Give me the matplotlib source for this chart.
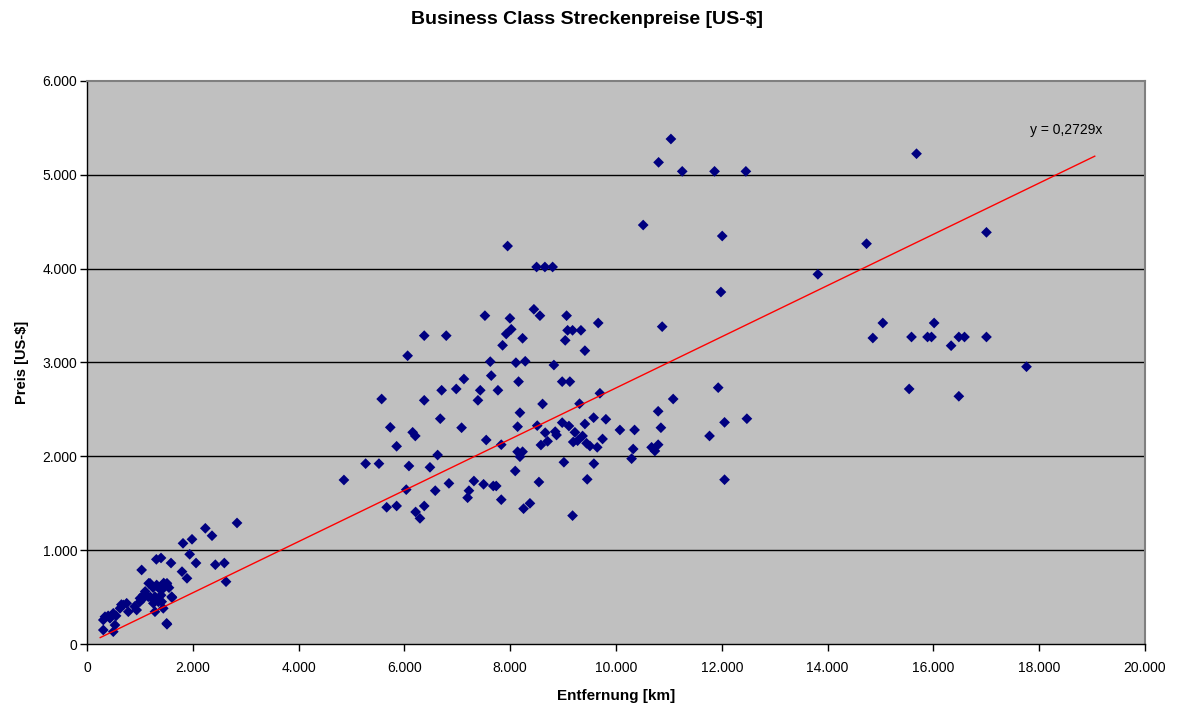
import matplotlib
matplotlib.use("Agg")
import matplotlib.pyplot as plt
from matplotlib.ticker import FuncFormatter, MultipleLocator
import numpy as np

plt.rcParams['font.family'] = ['Liberation Sans', 'DejaVu Sans']

title = "Business Class Streckenpreise [US-$]"
xlabel = "Entfernung [km]"
ylabel = "Preis [US-$]"
slope = 0.2729
trend_label = "y = 0,2729x"

distance_km = [
    308, 497, 529, 308, 435, 340, 497, 624, 686, 750, 781, 939, 1002, 1065, 1159,
    1285, 1254, 1412, 1601, 1285, 1442, 1506, 1191, 1317, 1506, 1412, 1166, 1512,
    1033, 1796, 1890, 1311, 1399, 1588, 2836, 2237, 2363, 1985, 1815, 1941, 2061,
    2426, 2596, 2628, 1607, 1512, 900, 1100, 1350, 1450, 1250, 1400, 1000, 550,
    400, 650, 1200, 1350, 1550, 1050,
    4857, 5267, 5519, 5570, 6061, 6375, 6791, 6375, 5733, 5853, 5665, 5853, 6035,
    6086, 6156, 6206, 6212, 6294, 6375, 6483, 6583, 6628, 6678, 6704, 6842, 6980,
    7081, 7125, 7195, 7220, 7314, 7390, 7434, 7497, 7522, 7547, 7623, 7642, 7680,
    7736, 7768, 7831, 7831, 7856, 7925, 8020, 7995, 8095, 8108, 8140, 8158, 8184,
    8140, 8184, 8234, 8234, 8284, 8253, 8373, 8448, 8562, 8511, 8543, 8581, 8612,
    8662, 8707, 8826, 8851, 8876,
    7951, 8499, 8656, 8802, 9066, 9040, 9085, 9179, 9337, 9664, 9412, 10873, 8983,
    9128, 9696, 9311, 11081, 10797, 8983, 9110, 9412, 9577, 9809, 9223, 9368, 10074,
    10351, 10849, 9191, 9274, 9444, 9507, 9645, 9746, 10325, 10295, 10673, 10735,
    10797, 9015, 9582, 9456, 9179,
    11038, 10805, 11252, 11863, 12455, 10514, 12008, 11983, 11932, 12052, 12474,
    11768, 12052,
    15681, 14736, 13816, 17003, 15044, 14855, 15586, 15889, 15964, 16014, 16335,
    16481, 16588, 17003, 17760, 15542, 16481,
]

price_usd = [
    149, 131, 202, 256, 274, 291, 327, 380, 416, 434, 344, 362, 487, 522, 504,
    504, 434, 451, 504, 344, 380, 220, 647, 629, 629, 576, 647, 647,
    789, 771, 700, 902, 917, 863, 1290, 1233, 1154, 1116, 1073, 956, 863,
    845, 863, 664, 494, 210, 400, 560, 600, 650, 600, 520, 450, 300,
    300, 420, 500, 450, 600, 480,
    1748, 1922, 1922, 2611, 3072, 3286, 3286, 2597, 2309, 2107, 1457, 1471, 1645,
    1897, 2256, 2217, 1407, 1339, 1471, 1883, 1634, 2014, 2401, 2704, 1712, 2718,
    2305, 2824, 1559, 1634, 1737, 2597, 2704, 1702, 3499, 2174, 3009, 2860, 1684,
    1684, 2704, 2124, 1538, 3183, 3304, 3354, 3471, 1844, 2998, 2316, 2796, 2465,
    2049, 1996, 2049, 3258, 3013, 1442, 1499, 3567, 3499, 2327, 1726, 2121, 2558,
    2252, 2160, 2973, 2263, 2227,
    4241, 4018, 4018, 4018, 3499, 3236, 3343, 3343, 3343, 3421, 3126, 3382, 2796,
    2796, 2672, 2561, 2611, 2480, 2359, 2323, 2345, 2412, 2395, 2256, 2217, 2281,
    2281, 2305, 2153, 2167, 2139, 2110, 2096, 2185, 2078, 1975, 2096, 2057,
    2124, 1937, 1922, 1755, 1368,
    5382, 5133, 5037, 5037, 5037, 4465, 4348, 3751, 2732, 2362, 2401,
    2217, 1751,
    5225, 4266, 3940, 4387, 3421, 3261, 3272, 3272, 3272, 3421, 3179,
    3272, 3272, 3272, 2955, 2718, 2640,
]

trend_x = [250, 19050]

fig = plt.figure(figsize=(11.82, 7.08), dpi=100)
ax = fig.add_axes([87/1182, 1-644/708, (1145-87)/1182, (644-81)/708])
ax.set_facecolor('#C0C0C0')

ax.set_xlim(0, 20000)
ax.set_ylim(0, 6000)
ax.xaxis.set_major_locator(MultipleLocator(2000))
ax.yaxis.set_major_locator(MultipleLocator(1000))
fmt = FuncFormatter(lambda v, p: f"{int(v):,}".replace(",", "."))
ax.xaxis.set_major_formatter(fmt)
ax.yaxis.set_major_formatter(fmt)

for yv in range(1000, 6000, 1000):
    ax.axhline(yv, color='black', lw=1.0, zorder=1)

ax.scatter(distance_km, price_usd, marker='D', s=30, color='#000080',
           edgecolors='none', zorder=3)
tx = np.array(trend_x, dtype=float)
ax.plot(tx, slope * tx, color='red', lw=1.0, zorder=4)
ax.text(17830, 5480, trend_label, fontsize=10, color='black', va='center', ha='left')

for s in ['left', 'bottom']:
    ax.spines[s].set_color('black')
    ax.spines[s].set_linewidth(1.0)
for s in ['top', 'right']:
    ax.spines[s].set_color('#808080')
    ax.spines[s].set_linewidth(1.5)

ax.tick_params(axis='both', direction='out', length=5, width=1, colors='black',
               labelsize=10)
ax.tick_params(axis='y', pad=2)
ax.tick_params(axis='x', pad=7)

fig.text(587/1182, 1-20/708, title, fontsize=14, fontweight='bold',
         ha='center', va='center')
ax.set_xlabel(xlabel, fontsize=11, fontweight='bold', labelpad=10)
ax.set_ylabel(ylabel, fontsize=10.5, fontweight='bold', labelpad=10)

fig.savefig('out.png', dpi=100, facecolor='white')
